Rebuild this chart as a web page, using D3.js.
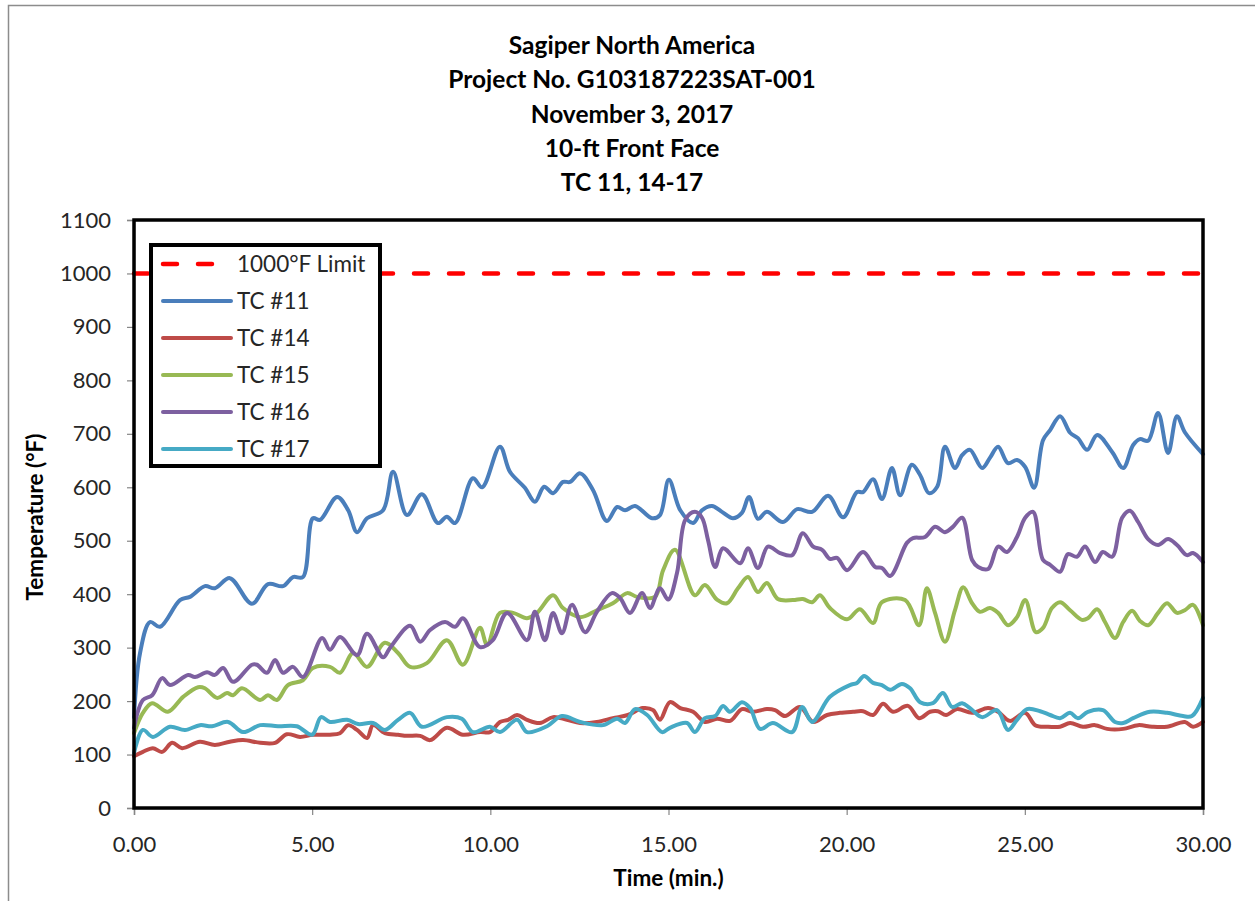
<!DOCTYPE html>
<html>
<head>
<meta charset="utf-8">
<script src="https://cdn.jsdelivr.net/npm/d3@7"></script>
<style>
  body { margin: 0; background: #fff; }
  svg { display: block; font-family: Lato, "Open Sans", sans-serif; }
</style>
</head>
<body>
<div id="chart"></div>
<script>
// title lines
const titleLines = ["Sagiper North America", "Project No. G103187223SAT-001",
  "November 3, 2017", "10-ft Front Face", "TC 11, 14-17"];

const yTicks = d3.range(0, 1101, 100);
const xTicks = [0, 5, 10, 15, 20, 25, 30];
const limitValue = 1000;

// [time (min), temperature (°F)]
const tc11 = [[0,170],[0.17,290],[0.45,348],[0.73,339],[1.29,389],[1.57,395],[1.99,415],[2.27,411],[2.69,430],[3.31,382],[3.76,419],[4.18,415],[4.46,432],[4.74,432],[5.02,542],[5.22,539],[5.70,582],[6.01,557],[6.26,516],[6.54,542],[6.99,557],[7.27,629],[7.66,548],[8.08,587],[8.53,533],[8.78,545],[9.01,533],[9.51,617],[9.77,600],[10.27,676],[10.55,629],[10.97,599],[11.25,573],[11.51,601],[11.76,589],[12.04,610],[12.24,610],[12.52,626],[12.88,595],[13.27,537],[13.56,563],[13.78,557],[14.06,565],[14.54,542],[14.76,548],[15.01,614],[15.33,557],[15.69,533],[15.94,557],[16.22,565],[16.50,554],[16.81,542],[17.06,552],[17.26,582],[17.51,541],[17.76,554],[18.21,535],[18.61,559],[19.03,554],[19.48,584],[19.90,544],[20.29,591],[20.46,591],[20.74,615],[20.99,578],[21.27,636],[21.50,585],[21.83,642],[22.06,623],[22.31,589],[22.54,601],[22.76,676],[23.04,636],[23.24,660],[23.46,670],[23.80,636],[24.02,655],[24.25,676],[24.53,645],[24.78,651],[25.01,638],[25.26,599],[25.51,688],[25.71,707],[25.99,733],[26.27,702],[26.49,692],[26.75,670],[27.03,698],[27.45,666],[27.76,636],[28.04,679],[28.23,690],[28.46,687],[28.74,739],[29.02,664],[29.27,733],[29.49,703],[30.00,662]];

const tc14 = [[0,97],[0.25,105],[0.53,112],[0.79,105],[1.07,122],[1.35,112],[1.85,124],[2.27,118],[2.69,124],[3.06,127],[3.54,122],[3.96,122],[4.29,138],[4.66,133],[5.02,137],[5.50,137],[5.78,140],[6.01,155],[6.26,146],[6.54,131],[6.71,155],[7.04,140],[7.41,137],[7.66,135],[8.03,135],[8.31,127],[8.78,150],[9.23,137],[9.71,142],[9.99,142],[10.27,161],[10.50,165],[10.75,174],[11.03,165],[11.39,159],[11.76,170],[12.15,165],[12.52,159],[12.99,161],[13.44,168],[13.86,174],[14.28,187],[14.57,183],[14.76,165],[15.04,198],[15.33,187],[15.69,180],[16.02,161],[16.36,167],[16.73,163],[17.06,185],[17.37,180],[17.76,185],[17.99,183],[18.27,172],[18.69,189],[19.06,161],[19.45,174],[19.81,178],[20.18,180],[20.46,181],[20.74,174],[21.02,195],[21.30,180],[21.72,191],[22.03,168],[22.34,180],[22.56,181],[22.79,174],[23.10,185],[23.52,178],[23.97,187],[24.25,180],[24.58,163],[25.01,178],[25.29,155],[25.62,152],[25.99,152],[26.27,159],[26.63,152],[26.97,155],[27.31,148],[27.76,148],[28.18,155],[28.57,152],[28.99,152],[29.49,161],[29.72,152],[30.00,161]];

const tc15 = [[0,140],[0.25,178],[0.51,196],[0.95,180],[1.38,208],[1.80,226],[1.99,224],[2.33,206],[2.61,215],[2.78,211],[3.03,224],[3.54,202],[3.76,211],[4.01,202],[4.32,230],[4.74,239],[5.02,262],[5.50,264],[5.78,253],[6.15,290],[6.54,264],[7.04,309],[7.41,290],[7.75,264],[8.22,271],[8.78,314],[9.23,268],[9.71,337],[9.91,305],[10.27,365],[10.64,365],[11.03,355],[11.31,365],[11.76,398],[12.04,374],[12.52,357],[12.99,370],[13.44,383],[13.84,402],[14.12,395],[14.62,395],[14.85,445],[15.18,483],[15.74,398],[16.02,417],[16.36,390],[16.64,383],[16.95,411],[17.23,432],[17.51,404],[17.76,421],[18.07,391],[18.49,389],[18.77,391],[19.03,385],[19.25,398],[19.53,374],[20.01,353],[20.37,372],[20.74,346],[20.99,385],[21.64,389],[22.03,342],[22.25,411],[22.48,365],[22.76,311],[23.04,370],[23.27,413],[23.52,383],[23.74,367],[24.02,374],[24.25,365],[24.53,342],[24.78,357],[25.01,389],[25.31,329],[25.51,337],[25.76,374],[25.99,385],[26.27,370],[26.60,352],[26.77,355],[27.03,372],[27.25,348],[27.53,318],[27.76,348],[28.01,369],[28.23,350],[28.46,342],[28.74,365],[28.99,383],[29.27,365],[29.49,370],[29.72,380],[30.00,342]];

const tc16 = [[0,150],[0.25,202],[0.51,211],[0.79,243],[1.01,230],[1.52,249],[1.71,245],[2.05,254],[2.27,249],[2.50,262],[2.78,236],[3.31,268],[3.45,268],[3.73,253],[3.96,277],[4.18,253],[4.46,264],[4.74,245],[5.28,318],[5.50,296],[5.78,320],[6.26,286],[6.54,326],[6.99,282],[7.18,299],[7.75,341],[8.03,311],[8.31,333],[8.73,348],[9.01,339],[9.23,355],[9.71,301],[10.07,314],[10.47,365],[11.03,314],[11.25,367],[11.53,314],[11.76,365],[12.01,327],[12.29,380],[12.66,329],[12.99,367],[13.41,402],[13.64,393],[13.92,365],[14.26,402],[14.48,374],[14.76,411],[14.99,390],[15.24,440],[15.47,539],[15.74,554],[15.94,543],[16.11,501],[16.31,451],[16.53,486],[17.01,458],[17.23,486],[17.51,449],[17.79,489],[18.13,477],[18.47,473],[18.77,514],[19.06,489],[19.31,483],[19.53,466],[19.73,468],[20.01,445],[20.46,479],[20.80,451],[20.99,449],[21.22,434],[21.69,496],[21.86,505],[22.20,507],[22.48,526],[22.76,516],[22.98,526],[23.24,543],[23.52,464],[23.69,451],[23.97,447],[24.25,489],[24.50,479],[24.78,507],[25.01,543],[25.23,554],[25.51,464],[25.71,455],[25.99,442],[26.21,475],[26.46,470],[26.69,489],[26.97,460],[27.19,479],[27.45,470],[27.73,543],[27.95,556],[28.18,535],[28.46,503],[28.74,492],[29.02,503],[29.27,492],[29.55,473],[29.72,477],[30.00,460]];

const tc17 = [[0,103],[0.25,146],[0.53,133],[1.01,152],[1.43,146],[1.85,155],[2.19,153],[2.64,161],[3.06,142],[3.54,155],[4.04,153],[4.57,153],[5.00,137],[5.25,170],[5.50,161],[5.98,165],[6.29,157],[6.71,159],[7.04,146],[7.41,165],[7.75,178],[8.08,152],[8.78,170],[9.20,167],[9.51,142],[9.99,152],[10.27,142],[10.75,165],[11.03,142],[11.59,153],[12.01,172],[12.52,161],[13.16,155],[13.56,167],[13.78,159],[14.06,185],[14.40,174],[14.82,142],[15.04,150],[15.52,159],[15.74,142],[16.02,168],[16.31,172],[16.53,191],[16.73,180],[17.06,198],[17.29,187],[17.57,148],[17.93,159],[18.47,142],[18.75,189],[19.03,161],[19.53,208],[20.09,230],[20.29,234],[20.49,247],[20.74,234],[20.99,230],[21.22,221],[21.55,232],[21.78,224],[22.06,198],[22.42,196],[22.70,215],[22.96,189],[23.24,196],[23.46,187],[23.80,170],[24.22,183],[24.53,146],[24.78,165],[25.06,185],[25.43,181],[25.71,174],[25.99,168],[26.27,178],[26.49,168],[26.77,180],[27.19,183],[27.53,161],[27.76,159],[28.04,168],[28.51,180],[28.99,178],[29.44,172],[29.69,172],[30.00,206]];

const seriesNames = ["TC #11", "TC #14", "TC #15", "TC #16", "TC #17"];
const seriesData = [tc11, tc14, tc15, tc16, tc17];
const seriesColors = ["#4A7EBB", "#BE4B48", "#98B954", "#7D60A0", "#46AAC5"];

const W = 1255, H = 901;
const m = {left: 134, top: 220, right: 52, bottom: 93};
const w = W - m.left - m.right, h = H - m.top - m.bottom;

const svg = d3.select("#chart").append("svg")
  .attr("width", W).attr("height", H);

// outer chart frame
svg.append("path")
  .attr("d", `M8.5,${H} V5.5 H${W}`)
  .attr("fill", "none").attr("stroke", "#8c8c8c").attr("stroke-width", 1.5);

// titles
svg.append("g").selectAll("text").data(titleLines).join("text")
  .attr("x", 632).attr("y", (d, i) => 54 + i * 34.3)
  .attr("text-anchor", "middle")
  .attr("font-size", 24.5).attr("font-weight", "bold").attr("fill", "#000")
  .text(d => d);

const x = d3.scaleLinear().domain([0, 30]).range([0, w]);
const y = d3.scaleLinear().domain([0, 1100]).range([h, 0]);

const g = svg.append("g").attr("transform", `translate(${m.left},${m.top})`);

// axes
const yAxis = d3.axisLeft(y).tickValues(yTicks).tickSize(7).tickPadding(16)
  .tickFormat(d3.format("d"));
const xAxis = d3.axisBottom(x).tickValues(xTicks).tickSize(7).tickPadding(21)
  .tickFormat(d3.format(".2f"));

const gy = g.append("g").call(yAxis);
const gx = g.append("g").attr("transform", `translate(0,${h})`).call(xAxis);
[gx, gy].forEach(a => {
  a.selectAll(".domain").attr("stroke", "#868686").attr("stroke-width", 1.5);
  a.selectAll(".tick line").attr("stroke", "#868686").attr("stroke-width", 1.2);
  a.selectAll(".tick text").attr("font-size", 22).attr("fill", "#262626")
    .attr("font-family", "Lato, 'Open Sans', sans-serif");
});

// axis titles
svg.append("text")
  .attr("x", m.left + w / 2).attr("y", 886)
  .attr("text-anchor", "middle").attr("font-size", 22.5).attr("font-weight", "bold")
  .text("Time (min.)");
svg.append("text")
  .attr("transform", `translate(43,${m.top + h / 2 + 3}) rotate(-90)`)
  .attr("text-anchor", "middle").attr("font-size", 22.5).attr("font-weight", "bold")
  .text("Temperature (°F)");

// limit line
g.append("line")
  .attr("x1", x(0)).attr("x2", x(30))
  .attr("y1", y(limitValue)).attr("y2", y(limitValue))
  .attr("stroke", "#FF0000").attr("stroke-width", 4.5)
  .attr("stroke-dasharray", "14,21").attr("stroke-linecap", "round");

// series
const line = d3.line()
  .x(d => x(d[0])).y(d => y(d[1]))
  .curve(d3.curveCatmullRom.alpha(0.5));

g.append("g").selectAll("path").data(seriesData).join("path")
  .attr("d", line)
  .attr("fill", "none")
  .attr("stroke", (d, i) => seriesColors[i])
  .attr("stroke-width", 4)
  .attr("stroke-linejoin", "round")
  .attr("stroke-linecap", "round");

// plot border
g.append("rect")
  .attr("x", 0).attr("y", 0).attr("width", w).attr("height", h)
  .attr("fill", "none").attr("stroke", "#000").attr("stroke-width", 3.5);

// legend
const lg = g.append("g").attr("transform", "translate(17,25)");
lg.append("rect")
  .attr("width", 229).attr("height", 221)
  .attr("fill", "#fff").attr("stroke", "#000").attr("stroke-width", 4);

const legendItems = [{name: "1000°F Limit", color: "#FF0000", dash: true}]
  .concat(seriesNames.map((n, i) => ({name: n, color: seriesColors[i], dash: false})));

const li = lg.selectAll("g.item").data(legendItems).join("g")
  .attr("class", "item")
  .attr("transform", (d, i) => `translate(0,${19 + i * 37})`);
li.append("line")
  .attr("x1", 12).attr("x2", d => d.dash ? 70 : 80)
  .attr("y1", 0).attr("y2", 0)
  .attr("stroke", d => d.color)
  .attr("stroke-width", d => d.dash ? 4.5 : 4)
  .attr("stroke-linecap", "round")
  .attr("stroke-dasharray", d => d.dash ? "14,21" : null);
li.append("text")
  .attr("x", 86).attr("y", 0).attr("dy", "0.35em")
  .attr("font-size", 22.5).attr("fill", "#262626")
  .text(d => d.name);
</script>
</body>
</html>
